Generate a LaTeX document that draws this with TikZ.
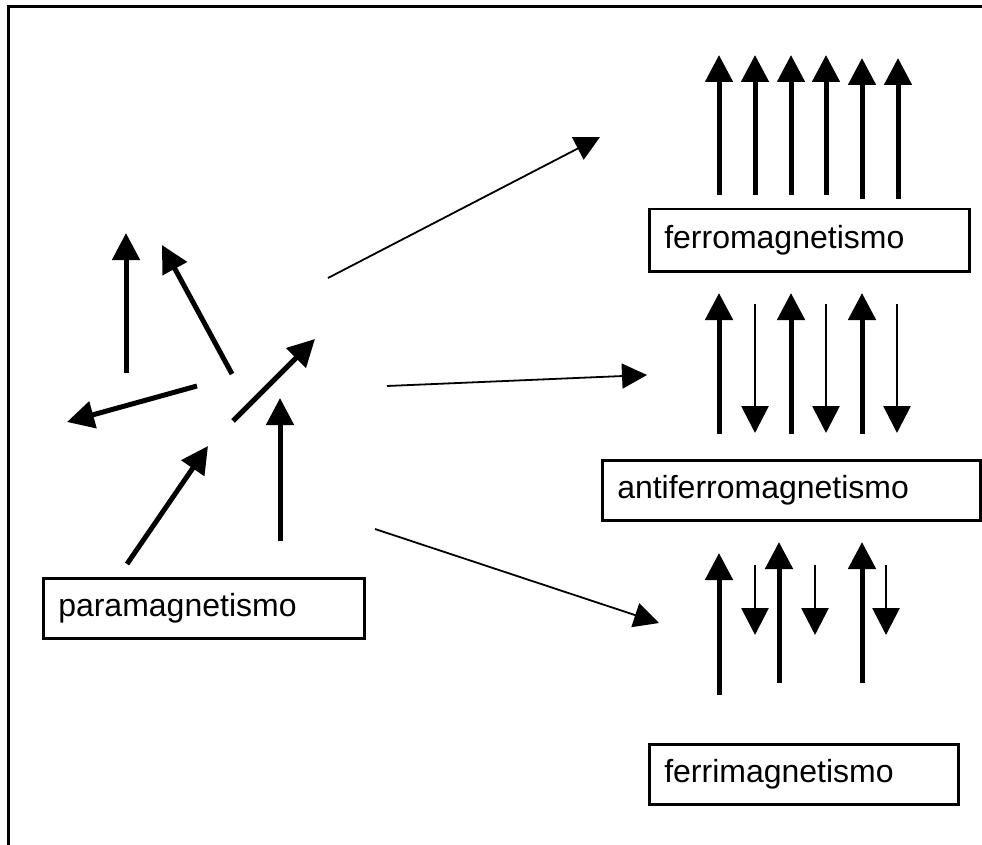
\documentclass[tikz,border=0pt]{standalone}
\usepackage{fontspec}
\setmainfont{Liberation Sans}
\usetikzlibrary{arrows.meta}
\begin{document}
\begin{tikzpicture}[x=1pt,y=-1pt,
  spin/.style={line width=5pt,-{Triangle[length=27pt,width=27pt]}},
  thinspin/.style={line width=2.8pt,-{Triangle[length=27pt,width=27pt]}},
  link/.style={line width=1.8pt,-{Triangle[length=25pt,width=25pt]}},
  phase/.style={draw,line width=2.5pt,anchor=north west,inner xsep=15pt,inner ysep=0pt,
    align=left,font=\fontsize{32}{36}\selectfont}]
\useasboundingbox (0,0) rectangle (982,845);
\clip (0,0) rectangle (982,845);

% outer frame
\draw[line width=3pt] (8,870) -- (8,7) -- (1000,7);

% phase labels
\node[phase,minimum width=321pt,minimum height=60pt,text width=291pt] (para) at (42,577) {paramagnetismo};
\node[phase,minimum width=320pt,minimum height=62pt,text width=290pt] (ferro) at (648,208) {ferromagnetismo};
\node[phase,minimum width=378pt,minimum height=60pt,text width=348pt] (antiferro) at (601,459) {antiferromagnetismo};
\node[phase,minimum width=309pt,minimum height=60pt,text width=279pt] (ferri) at (648,743) {ferrimagnetismo};

% paramagnetic: randomly oriented moments
\draw[spin] (126,373) -- (126,233);
\draw[spin] (232,374) -- (162,245);
\draw[spin] (197,386) -- (67,422);
\draw[spin] (233,421) -- (315,339);
\draw[spin] (280,541) -- (280,398);
\draw[spin] (127,564) -- (208,446);

% transitions to the ordered phases
\coordinate (fromA) at (328,278);
\coordinate (toFerro) at (600,137);
\coordinate (fromB) at (387,386);
\coordinate (toAnti) at (647,375);
\coordinate (fromC) at (375,529);
\coordinate (toFerri) at (659,623);
\draw[link] (fromA) -- (toFerro);
\draw[link] (fromB) -- (toAnti);
\draw[link] (fromC) -- (toFerri);

% ferromagnetic: all moments parallel
\foreach \x in {719,755,791,826} \draw[spin] (\x,195) -- (\x,55);
\foreach \x in {862,898} \draw[spin] (\x,199) -- (\x,58);

% antiferromagnetic: equal antiparallel moments
\foreach \x in {719,791,862} \draw[spin] (\x,434) -- (\x,293);
\foreach \x in {755,826,897} \draw[thinspin] (\x,304) -- (\x,433);

% ferrimagnetic: unequal antiparallel moments
\draw[spin] (719,695) -- (719,553);
\foreach \x in {779,862} \draw[spin] (\x,683) -- (\x,542);
\foreach \x in {755,815,886} \draw[thinspin] (\x,565) -- (\x,635);
\end{tikzpicture}
\end{document}
